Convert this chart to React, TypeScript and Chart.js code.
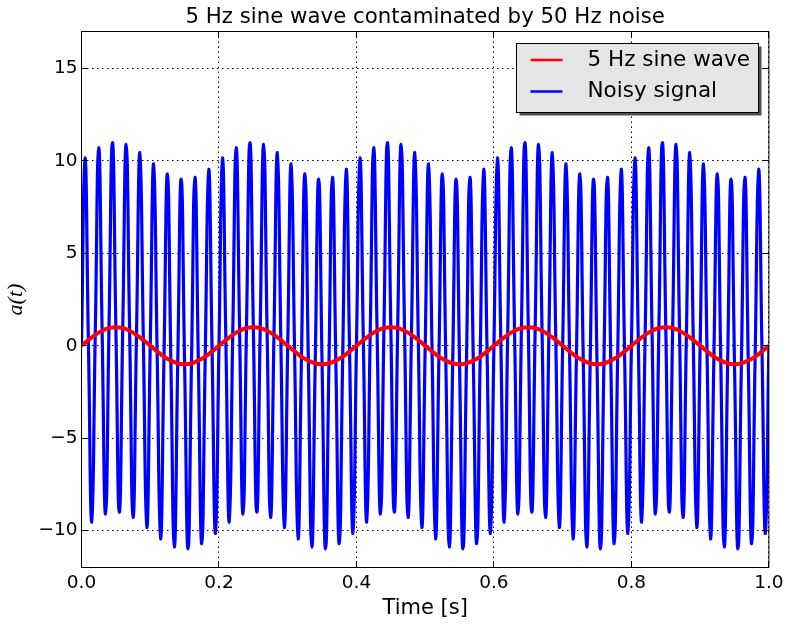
import React, { useEffect, useRef } from "react";
import { Chart, registerables } from "chart.js";

Chart.register(...registerables);

const TITLE = "5 Hz sine wave contaminated by 50 Hz noise";
const X_LABEL = "Time [s]";
const Y_LABEL = "a(t)";
const SERIES_LABELS = ["5 Hz sine wave", "Noisy signal"];
const SERIES_COLORS = ["#ff0000", "#0000ff"];
const X_TICKS = [0, 0.2, 0.4, 0.6, 0.8, 1.0];
const Y_TICKS = [-10, -5, 0, 5, 10, 15];
const X_RANGE = [0, 1];
const Y_RANGE = [-12, 17];

// time [s]
const TIME = [
  0, 0.005, 0.01, 0.015, 0.02, 0.025, 0.03, 0.035, 0.04, 0.045, 0.05, 0.055, 0.06, 0.065, 0.07, 0.075, 0.08, 0.085, 0.09, 0.095,
  0.1, 0.105, 0.11, 0.115, 0.12, 0.125, 0.13, 0.135, 0.14, 0.145, 0.15, 0.155, 0.16, 0.165, 0.17, 0.175, 0.18, 0.185, 0.19, 0.195,
  0.2, 0.205, 0.21, 0.215, 0.22, 0.225, 0.23, 0.235, 0.24, 0.245, 0.25, 0.255, 0.26, 0.265, 0.27, 0.275, 0.28, 0.285, 0.29, 0.295,
  0.3, 0.305, 0.31, 0.315, 0.32, 0.325, 0.33, 0.335, 0.34, 0.345, 0.35, 0.355, 0.36, 0.365, 0.37, 0.375, 0.38, 0.385, 0.39, 0.395,
  0.4, 0.405, 0.41, 0.415, 0.42, 0.425, 0.43, 0.435, 0.44, 0.445, 0.45, 0.455, 0.46, 0.465, 0.47, 0.475, 0.48, 0.485, 0.49, 0.495,
  0.5, 0.505, 0.51, 0.515, 0.52, 0.525, 0.53, 0.535, 0.54, 0.545, 0.55, 0.555, 0.56, 0.565, 0.57, 0.575, 0.58, 0.585, 0.59, 0.595,
  0.6, 0.605, 0.61, 0.615, 0.62, 0.625, 0.63, 0.635, 0.64, 0.645, 0.65, 0.655, 0.66, 0.665, 0.67, 0.675, 0.68, 0.685, 0.69, 0.695,
  0.7, 0.705, 0.71, 0.715, 0.72, 0.725, 0.73, 0.735, 0.74, 0.745, 0.75, 0.755, 0.76, 0.765, 0.77, 0.775, 0.78, 0.785, 0.79, 0.795,
  0.8, 0.805, 0.81, 0.815, 0.82, 0.825, 0.83, 0.835, 0.84, 0.845, 0.85, 0.855, 0.86, 0.865, 0.87, 0.875, 0.88, 0.885, 0.89, 0.895,
  0.9, 0.905, 0.91, 0.915, 0.92, 0.925, 0.93, 0.935, 0.94, 0.945, 0.95, 0.955, 0.96, 0.965, 0.97, 0.975, 0.98, 0.985, 0.99, 0.995,
  1,
];

// 5 Hz sine wave a(t)
const SINE_5HZ = [
  0, 0.156, 0.309, 0.454, 0.588, 0.707, 0.809, 0.891, 0.951, 0.988, 1, 0.988, 0.951, 0.891, 0.809, 0.707, 0.588, 0.454, 0.309, 0.156,
  0, -0.156, -0.309, -0.454, -0.588, -0.707, -0.809, -0.891, -0.951, -0.988, -1, -0.988, -0.951, -0.891, -0.809, -0.707, -0.588, -0.454, -0.309, -0.156,
  0, 0.156, 0.309, 0.454, 0.588, 0.707, 0.809, 0.891, 0.951, 0.988, 1, 0.988, 0.951, 0.891, 0.809, 0.707, 0.588, 0.454, 0.309, 0.156,
  0, -0.156, -0.309, -0.454, -0.588, -0.707, -0.809, -0.891, -0.951, -0.988, -1, -0.988, -0.951, -0.891, -0.809, -0.707, -0.588, -0.454, -0.309, -0.156,
  0, 0.156, 0.309, 0.454, 0.588, 0.707, 0.809, 0.891, 0.951, 0.988, 1, 0.988, 0.951, 0.891, 0.809, 0.707, 0.588, 0.454, 0.309, 0.156,
  0, -0.156, -0.309, -0.454, -0.588, -0.707, -0.809, -0.891, -0.951, -0.988, -1, -0.988, -0.951, -0.891, -0.809, -0.707, -0.588, -0.454, -0.309, -0.156,
  0, 0.156, 0.309, 0.454, 0.588, 0.707, 0.809, 0.891, 0.951, 0.988, 1, 0.988, 0.951, 0.891, 0.809, 0.707, 0.588, 0.454, 0.309, 0.156,
  0, -0.156, -0.309, -0.454, -0.588, -0.707, -0.809, -0.891, -0.951, -0.988, -1, -0.988, -0.951, -0.891, -0.809, -0.707, -0.588, -0.454, -0.309, -0.156,
  0, 0.156, 0.309, 0.454, 0.588, 0.707, 0.809, 0.891, 0.951, 0.988, 1, 0.988, 0.951, 0.891, 0.809, 0.707, 0.588, 0.454, 0.309, 0.156,
  0, -0.156, -0.309, -0.454, -0.588, -0.707, -0.809, -0.891, -0.951, -0.988, -1, -0.988, -0.951, -0.891, -0.809, -0.707, -0.588, -0.454, -0.309, -0.156,
  0,
];

// noisy signal a(t)
const NOISY = [
  0, 10.16, 0.31, -9.55, 0.59, 10.71, 0.81, -9.11, 0.95, 10.99, 1, -9.01, 0.95, 10.89, 0.81, -9.29, 0.59, 10.45, 0.31, -9.84,
  0, 9.84, -0.31, -10.45, -0.59, 9.29, -0.81, -10.89, -0.95, 9.01, -1, -10.99, -0.95, 9.11, -0.81, -10.71, -0.59, 9.55, -0.31, -10.16,
  0, 10.16, 0.31, -9.55, 0.59, 10.71, 0.81, -9.11, 0.95, 10.99, 1, -9.01, 0.95, 10.89, 0.81, -9.29, 0.59, 10.45, 0.31, -9.84,
  0, 9.84, -0.31, -10.45, -0.59, 9.29, -0.81, -10.89, -0.95, 9.01, -1, -10.99, -0.95, 9.11, -0.81, -10.71, -0.59, 9.55, -0.31, -10.16,
  0, 10.16, 0.31, -9.55, 0.59, 10.71, 0.81, -9.11, 0.95, 10.99, 1, -9.01, 0.95, 10.89, 0.81, -9.29, 0.59, 10.45, 0.31, -9.84,
  0, 9.84, -0.31, -10.45, -0.59, 9.29, -0.81, -10.89, -0.95, 9.01, -1, -10.99, -0.95, 9.11, -0.81, -10.71, -0.59, 9.55, -0.31, -10.16,
  0, 10.16, 0.31, -9.55, 0.59, 10.71, 0.81, -9.11, 0.95, 10.99, 1, -9.01, 0.95, 10.89, 0.81, -9.29, 0.59, 10.45, 0.31, -9.84,
  0, 9.84, -0.31, -10.45, -0.59, 9.29, -0.81, -10.89, -0.95, 9.01, -1, -10.99, -0.95, 9.11, -0.81, -10.71, -0.59, 9.55, -0.31, -10.16,
  0, 10.16, 0.31, -9.55, 0.59, 10.71, 0.81, -9.11, 0.95, 10.99, 1, -9.01, 0.95, 10.89, 0.81, -9.29, 0.59, 10.45, 0.31, -9.84,
  0, 9.84, -0.31, -10.45, -0.59, 9.29, -0.81, -10.89, -0.95, 9.01, -1, -10.99, -0.95, 9.11, -0.81, -10.71, -0.59, 9.55, -0.31, -10.16,
  0,
];

const FONT = "'DejaVu Sans', sans-serif";

const align = (p: number) => Math.round(p - 0.5) + 0.5;

const framePlugin = {
  id: "frameTicksLegend",
  afterDatasetsDraw(chart: any) {
    const { ctx, chartArea, scales } = chart;
    const { left, right, top, bottom } = chartArea;
    const xs = scales.x;
    const ys = scales.y;
    ctx.save();
    ctx.setLineDash([]);
    ctx.strokeStyle = "#000";
    ctx.lineWidth = 1;
    const L = 6.5;
    ctx.beginPath();
    for (const v of X_TICKS) {
      const px = align(xs.getPixelForValue(v));
      ctx.moveTo(px, bottom);
      ctx.lineTo(px, bottom - L);
      ctx.moveTo(px, top);
      ctx.lineTo(px, top + L);
    }
    for (const v of Y_TICKS) {
      const py = align(ys.getPixelForValue(v));
      ctx.moveTo(left, py);
      ctx.lineTo(left + L, py);
      ctx.moveTo(right, py);
      ctx.lineTo(right - L, py);
    }
    ctx.stroke();
    ctx.strokeRect(left, top, right - left, bottom - top);

    // legend
    const fontPx = 21.5;
    ctx.font = `${fontPx}px ${FONT}`;
    const items = chart.data.datasets.map((d: any) => ({ label: d.label, color: d.borderColor }));
    const textW = Math.max(...items.map((i: any) => ctx.measureText(i.label).width));
    const padL = 14, lineLen = 32, gap = 25, padR = 9;
    const w = Math.round(padL + lineLen + gap + textW + padR);
    const h = 69;
    const bx = align(right - 10 - w);
    const by = align(top + 11.5);
    ctx.fillStyle = "#505050";
    ctx.fillRect(bx + 3, by + 3, w, h);
    ctx.fillStyle = "#e5e5e5";
    ctx.fillRect(bx, by, w, h);
    ctx.strokeStyle = "#000";
    ctx.lineWidth = 1;
    ctx.strokeRect(bx, by, w, h);
    const rows = [by + 16.5, by + 48];
    items.forEach((it: any, i: number) => {
      const ry = rows[i];
      ctx.strokeStyle = it.color;
      ctx.lineWidth = 2.5;
      ctx.beginPath();
      ctx.moveTo(bx + padL, ry);
      ctx.lineTo(bx + padL + lineLen, ry);
      ctx.stroke();
      ctx.fillStyle = "#000";
      ctx.textAlign = "left";
      ctx.textBaseline = "middle";
      ctx.fillText(it.label, bx + padL + lineLen + gap, ry);
    });
    ctx.restore();
  },
};

export default function App() {
  const ref = useRef<HTMLCanvasElement | null>(null);
  useEffect(() => {
    if (!ref.current) return;
    const tickFont = { family: FONT, size: 18.5 };
    const chart = new Chart(ref.current, {
      type: "line",
      data: {
        datasets: [
          {
            label: SERIES_LABELS[0],
            data: TIME.map((t, i) => ({ x: t, y: SINE_5HZ[i] })),
            borderColor: SERIES_COLORS[0],
            backgroundColor: SERIES_COLORS[0],
            borderWidth: 4,
            pointRadius: 0,
            tension: 0.4,
            fill: false,
            clip: 0,
          },
          {
            label: SERIES_LABELS[1],
            data: TIME.map((t, i) => ({ x: t, y: NOISY[i] })),
            borderColor: SERIES_COLORS[1],
            backgroundColor: SERIES_COLORS[1],
            borderWidth: 3.2,
            pointRadius: 0,
            tension: 0.5,
            fill: false,
            clip: 0,
          },
        ],
      },
      options: {
        responsive: false,
        animation: false,
        devicePixelRatio: 1,
        events: [],
        layout: { padding: { left: 0, right: 17.5, top: 0, bottom: 0 } },
        plugins: {
          legend: { display: false },
          tooltip: { enabled: false },
          title: {
            display: true,
            fullSize: false,
            text: TITLE,
            color: "#000",
            font: { family: FONT, size: 21.3, weight: "normal", lineHeight: 1.2 },
            padding: { top: 4.3, bottom: 1.64 },
          },
        },
        scales: {
          x: {
            type: "linear",
            min: X_RANGE[0],
            max: X_RANGE[1],
            afterBuildTicks: (s: any) => {
              s.ticks = X_TICKS.map((v) => ({ value: v }));
            },
            afterFit: (s: any) => {
              s.height = 56.5;
            },
            ticks: {
              color: "#000",
              font: tickFont,
              padding: 4.4,
              maxRotation: 0,
              autoSkip: false,
              callback: (v: any) => Number(v).toFixed(1),
            },
            grid: { color: "#000", lineWidth: 1, drawTicks: false },
            border: { display: false, dash: [1.5, 3.5] },
            title: {
              display: true,
              text: X_LABEL,
              color: "#000",
              font: { family: FONT, size: 21 },
              padding: { top: 0, bottom: 2.7 },
            },
          },
          y: {
            type: "linear",
            min: Y_RANGE[0],
            max: Y_RANGE[1],
            afterBuildTicks: (s: any) => {
              s.ticks = Y_TICKS.map((v) => ({ value: v }));
            },
            afterFit: (s: any) => {
              s.width = 81.5;
            },
            ticks: {
              color: "#000",
              font: tickFont,
              padding: 4,
              autoSkip: false,
              callback: (v: any) => (Number(v) < 0 ? "\u2212" + Math.abs(Number(v)) : String(v)),
            },
            grid: { color: "#000", lineWidth: 1, drawTicks: false },
            border: { display: false, dash: [1.5, 3.5] },
            title: {
              display: true,
              text: Y_LABEL,
              color: "#000",
              font: { family: "'Liberation Serif', serif", size: 22, style: "italic" },
              padding: { top: 3, bottom: 0 },
            },
          },
        },
      },
      plugins: [framePlugin],
    } as any);
    return () => chart.destroy();
  }, []);
  return (
    <div style={{ position: "absolute", left: 0, top: 0, width: 788, height: 624, background: "#fff" }}>
      <canvas ref={ref} width={788} height={624} style={{ display: "block" }} />
    </div>
  );
}
